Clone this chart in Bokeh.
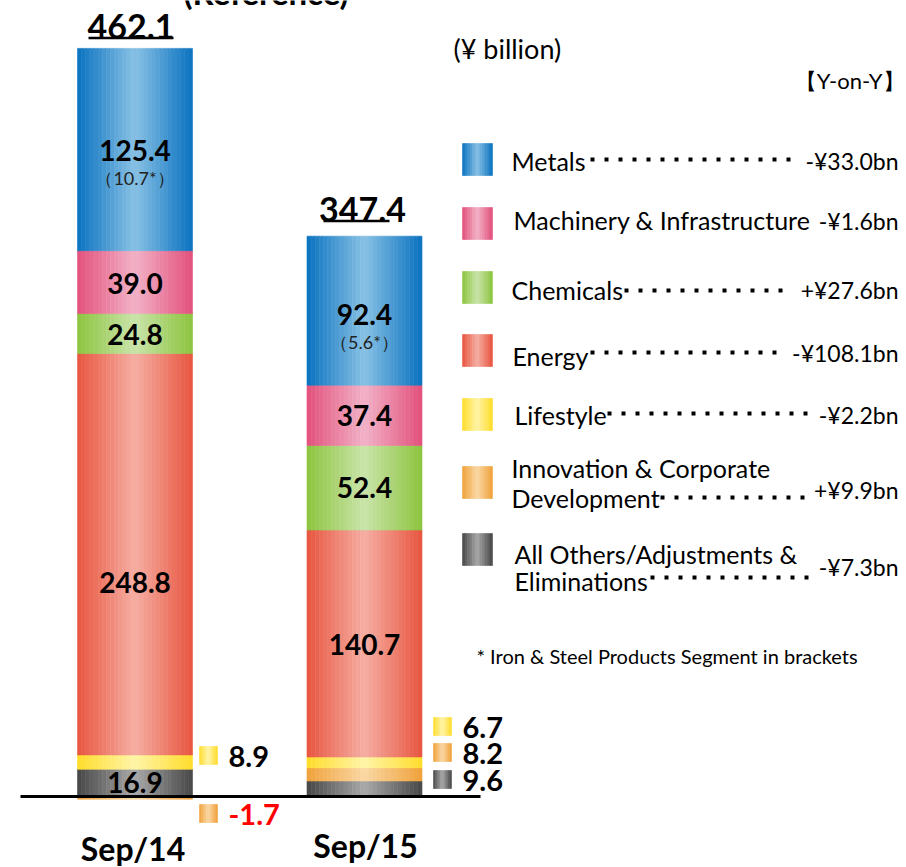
from bokeh.plotting import figure
from bokeh.models import Range1d
from bokeh.embed import file_html
from bokeh.resources import INLINE
from bokeh.core.properties import value

# ---------------- data ----------------
periods = ["Sep/14", "Sep/15"]
# stacking order, bottom -> top
segments = ["Others", "Innovation", "Lifestyle", "Energy", "Chemicals", "Machinery", "Metals"]
sep14 = [16.9, -1.7, 8.9, 248.8, 24.8, 39.0, 125.4]
sep15 = [9.6, 8.2, 6.7, 140.7, 52.4, 37.4, 92.4]
totals = [462.1, 347.4]
iron_steel = [10.7, 5.6]

legend_order = ["Metals", "Machinery", "Chemicals", "Energy", "Lifestyle", "Innovation", "Others"]
legend_labels = [["Metals"], ["Machinery & Infrastructure"], ["Chemicals"], ["Energy"], ["Lifestyle"],
                 ["Innovation & Corporate", "Development"], ["All Others/Adjustments &", "Eliminations"]]
yoy = ["-¥33.0bn", "-¥1.6bn", "+¥27.6bn", "-¥108.1bn", "-¥2.2bn", "+¥9.9bn", "-¥7.3bn"]

# edge / centre colours of the cylindrical gradient
colors = {
    "Metals": ("#0A72C0", "#88C1E4"),
    "Machinery": ("#E2507C", "#F2B2C7"),
    "Chemicals": ("#8CC43E", "#CAE4AA"),
    "Energy": ("#E8553F", "#F5AEA3"),
    "Lifestyle": ("#FFDD2A", "#FFF4A8"),
    "Innovation": ("#F0A13A", "#FAD8A5"),
    "Others": ("#474747", "#A9A9A9"),
}

# ---------------- geometry helpers ----------------
W, H = 906, 867
S = 1.613          # px per ¥bn
BASE = 796         # pixel row of the zero line


def X(px):
    return px


def Y(py):
    return (BASE - py) / S


def mix(c1, c2, t):
    a = [int(c1[i:i + 2], 16) for i in (1, 3, 5)]
    b = [int(c2[i:i + 2], 16) for i in (1, 3, 5)]
    return "#%02x%02x%02x" % tuple(round(a[k] + (b[k] - a[k]) * t) for k in range(3))


strips = dict(left=[], right=[], bottom=[], top=[], color=[])


def grad_rect(x0, x1, y0, y1, name, n=28):
    edge, centre = colors[name]
    w = (x1 - x0) / n
    for i in range(n):
        t = 1 - abs(2 * (i + 0.5) / n - 1)
        strips["left"].append(x0 + i * w)
        strips["right"].append(x0 + (i + 1) * w)
        strips["bottom"].append(y0)
        strips["top"].append(y1)
        strips["color"].append(mix(edge, centre, t))


p = figure(width=W, height=H, output_backend="svg", toolbar_location=None,
           x_range=Range1d(0, W), y_range=Range1d(Y(H), Y(0)),
           min_border=0, outline_line_color=None)
p.axis.visible = False
p.grid.visible = False
p.background_fill_color = "white"

FONT = value("Lato")

bar_centres = [X(134.5), X(364)]
bar_width = 115

texts = []  # (x, y, text, size, style, color, align)

series = [sep14, sep15]
for b, vals in enumerate(series):
    cx = bar_centres[b]
    pos, neg = 0.0, 0.0
    for name, v in zip(segments, vals):
        if v >= 0:
            y0, y1 = pos, pos + v
            pos += v
        else:
            y0, y1 = neg + v, neg
            neg += v
        grad_rect(cx - bar_width / 2, cx + bar_width / 2, y0, y1, name)
    stack_top = pos
    # total label (underlined)
    ty = stack_top + [22, 27][b] / S
    texts.append((cx - 4 + b * 2, ty, "%.1f" % totals[b], "34px", "bold", "black", "center"))

# inner labels with pixel nudges
nudges = [{"Metals": 1, "Machinery": 1, "Chemicals": 1, "Energy": 28, "Others": 0},
          {"Metals": 4, "Machinery": 0, "Chemicals": 0, "Energy": 1}]
for b, vals in enumerate(series):
    cx = bar_centres[b]
    pos = 0.0
    for name, v in zip(segments, vals):
        if v < 0:
            continue
        mid = pos + v / 2
        pos += v
        if name in nudges[b]:
            ly = mid - nudges[b][name] / S
            texts.append((cx, ly, "%.1f" % v, "28px", "bold", "black", "center"))
            if name == "Metals":
                texts.append((cx, ly - 27 / S, "（%.1f*）" % iron_steel[b], "18px", "normal", "#222222", "center"))

# underlines under totals
p.segment(x0=[X(88), X(323)], x1=[X(173), X(389)], y0=[Y(37.5), Y(220.5)], y1=[Y(37.5), Y(220.5)],
          line_color="black", line_width=2.5)

# side markers for small segments (layout positions)
side = [
    (0, "Lifestyle", sep14[2], 755, "black"),
    (0, "Innovation", sep14[1], 813, "#FF0000"),
    (1, "Lifestyle", sep15[2], 726, "black"),
    (1, "Innovation", sep15[1], 752, "black"),
    (1, "Others", sep15[0], 779, "black"),
]
side_x = [199, 433]
for b, name, v, py, col in side:
    x0 = X(side_x[b])
    grad_rect(x0, x0 + 18, Y(py + 9), Y(py - 9), name, n=10)
    texts.append((x0 + 29, Y(py + 1), "%.1f" % v, "29px", "bold", col, "left"))

# legend squares + labels + y-on-y
leg_y = [159, 223, 287, 350, 414, 482, 549]
label_y = [[160], [219], [289], [355], [414], [467, 497], [553, 580]]
label_x = [511, 513, 511, 512, 514, 511, 514]
dots = [(590, 792, 159), None, (624, 787, 290), (590, 780, 352), (607, 810, 413), (660, 810, 497), (650, 810, 577)]
val_y = [160, 220, 289, 352, 414, 489, 566]
for i, name in enumerate(legend_order):
    grad_rect(X(462), X(492), Y(leg_y[i] + 16), Y(leg_y[i] - 16), name, n=12)
    for line, ly in zip(legend_labels[i], label_y[i]):
        texts.append((X(label_x[i]), Y(ly), line, "25px", "normal", "black", "left"))
    texts.append((X(898), Y(val_y[i]), yoy[i], "23px", "normal", "black", "right"))
    if dots[i]:
        d0, d1, dy = dots[i]
        p.segment(x0=[X(d0)], x1=[X(d1)], y0=[Y(dy)], y1=[Y(dy)], line_color="black",
                  line_width=4, line_dash="4 10", line_cap="butt")

p.quad(left="left", right="right", bottom="bottom", top="top", source=strips,
       fill_color="color", line_color="color", line_width=0.6)

# zero line
p.segment(x0=[X(20)], x1=[X(480)], y0=[0], y1=[0], line_color="black", line_width=3)

# misc texts
texts.append((X(453), Y(48), "(¥ billion)", "27px", "normal", "black", "left"))
texts.append((X(904), Y(80), "【Y-on-Y】", "22px", "normal", "black", "right"))
texts.append((X(476), Y(655), "* Iron & Steel Products Segment in brackets", "20px", "normal", "black", "left"))
texts.append((X(183), Y(-9), "(Reference)", "33px", "bold", "black", "left"))
for b, lab in enumerate(periods):
    texts.append((bar_centres[b] - 2 + b * 3, Y([848, 845][b]), lab, "32px", "bold", "black", "center"))

for x, y, t, size, style, col, align in texts:
    p.text(x=[x], y=[y], text=[t], text_font=FONT, text_font_size=size, text_font_style=style,
           text_color=col, text_align=align, text_baseline="middle")

open("out.html", "w").write(file_html(p, INLINE))
